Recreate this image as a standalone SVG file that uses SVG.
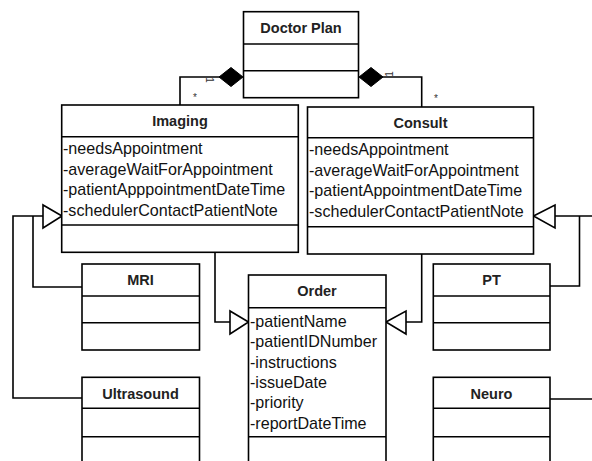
<svg xmlns="http://www.w3.org/2000/svg" width="592" height="461" viewBox="0 0 592 461">
<style>
.box{fill:#fff;stroke:#000;stroke-width:1.6}
.sep{stroke:#000;stroke-width:1.6}
.title{font-family:"Liberation Sans",Arial,sans-serif;font-weight:bold;font-size:14.5px;text-anchor:middle;fill:#222}
.attr{font-family:"Liberation Sans",Arial,sans-serif;font-size:16.1px;fill:#111}
.conn{fill:none;stroke:#000;stroke-width:1.6}
.tri{fill:#fff;stroke:#000;stroke-width:1.6}
.dia{fill:#000;stroke:#000;stroke-width:1}
.mult{font-family:"Liberation Sans",Arial,sans-serif;font-size:10px;fill:#333}
</style>
<rect width="592" height="461" fill="#fff"/>
<g id="connectors">
  <polyline class="conn" points="220,77 180,77 180,105"/>
  <polygon class="dia" points="243,77 231,67.5 219,77 231,86.5"/>
  <polyline class="conn" points="382,77 421.7,77 421.7,107"/>
  <polygon class="dia" points="359,77 371,67.5 383,77 371,86.5"/>
  <text class="mult" transform="translate(206,80) rotate(90)" text-anchor="middle">1</text>
  <text class="mult" x="195" y="101" text-anchor="middle">*</text>
  <text class="mult" transform="translate(393,74) rotate(-90)" text-anchor="middle">1</text>
  <text class="mult" x="436" y="102" text-anchor="middle">*</text>
  <polyline class="conn" points="82,287 33,287 33,216"/>
  <polyline class="conn" points="82,398 13,398 13,216 43,216"/>
  <polygon class="tri" points="62,216 43,205 43,228"/>
  <polyline class="conn" points="215,252 215,322 230,322"/>
  <polygon class="tri" points="248.5,322 230,311 230,334"/>
  <polyline class="conn" points="421.7,254 421.7,322 406,322"/>
  <polygon class="tri" points="386,322 406,311 406,334"/>
  <polyline class="conn" points="555,216 600,216"/>
  <polyline class="conn" points="550,286 579.5,286 579.5,216"/>
  <polyline class="conn" points="550,399 600,399"/>
  <polygon class="tri" points="533.5,216 555,205 555,228"/>
</g>
<g id="doctor-plan">
  <rect class="box" x="243.5" y="11.7" width="115" height="86"/>
  <line class="sep" x1="243.5" y1="44" x2="358.5" y2="44"/>
  <line class="sep" x1="243.5" y1="70.7" x2="358.5" y2="70.7"/>
  <text class="title" x="301" y="33">Doctor Plan</text>
</g>
<g id="imaging">
  <rect class="box" x="61.7" y="105" width="236.6" height="147.3"/>
  <line class="sep" x1="61.7" y1="136.7" x2="298.3" y2="136.7"/>
  <line class="sep" x1="61.7" y1="225" x2="298.3" y2="225"/>
  <text class="title" x="180" y="126">Imaging</text>
  <text class="attr" x="63" y="153.5">-needsAppointment</text>
  <text class="attr" x="63" y="174.5">-averageWaitForAppointment</text>
  <text class="attr" x="63" y="195">-patientApppointmentDateTime</text>
  <text class="attr" x="63" y="215.5">-schedulerContactPatientNote</text>
</g>
<g id="consult">
  <rect class="box" x="307.5" y="107" width="226" height="147"/>
  <line class="sep" x1="307.5" y1="137.7" x2="533.5" y2="137.7"/>
  <line class="sep" x1="307.5" y1="226.7" x2="533.5" y2="226.7"/>
  <text class="title" x="420.5" y="128">Consult</text>
  <text class="attr" x="309" y="154.5">-needsAppointment</text>
  <text class="attr" x="309" y="175.5">-averageWaitForAppointment</text>
  <text class="attr" x="309" y="196">-patientAppointmentDateTime</text>
  <text class="attr" x="309" y="216.5">-schedulerContactPatientNote</text>
</g>
<g id="mri">
  <rect class="box" x="82" y="264" width="117.5" height="86"/>
  <line class="sep" x1="82" y1="296" x2="199.5" y2="296"/>
  <line class="sep" x1="82" y1="322.7" x2="199.5" y2="322.7"/>
  <text class="title" x="140.5" y="285">MRI</text>
</g>
<g id="ultrasound">
  <rect class="box" x="82" y="377.3" width="117.5" height="100"/>
  <line class="sep" x1="82" y1="408.3" x2="199.5" y2="408.3"/>
  <line class="sep" x1="82" y1="436.7" x2="199.5" y2="436.7"/>
  <text class="title" x="140.5" y="398.5">Ultrasound</text>
</g>
<g id="order">
  <rect class="box" x="248.5" y="275" width="137.5" height="200"/>
  <line class="sep" x1="248.5" y1="307.7" x2="386" y2="307.7"/>
  <line class="sep" x1="248.5" y1="436.7" x2="386" y2="436.7"/>
  <text class="title" x="317" y="296">Order</text>
  <text class="attr" x="250" y="327">-patientName</text>
  <text class="attr" x="250" y="347">-patientIDNumber</text>
  <text class="attr" x="250" y="367.5">-instructions</text>
  <text class="attr" x="250" y="388">-issueDate</text>
  <text class="attr" x="250" y="408">-priority</text>
  <text class="attr" x="250" y="428.5">-reportDateTime</text>
</g>
<g id="pt">
  <rect class="box" x="433.3" y="264" width="116.7" height="86"/>
  <line class="sep" x1="433.3" y1="296" x2="550" y2="296"/>
  <line class="sep" x1="433.3" y1="322.7" x2="550" y2="322.7"/>
  <text class="title" x="491.5" y="285">PT</text>
</g>
<g id="neuro">
  <rect class="box" x="433.3" y="377.3" width="116.7" height="100"/>
  <line class="sep" x1="433.3" y1="408.3" x2="550" y2="408.3"/>
  <line class="sep" x1="433.3" y1="436.7" x2="550" y2="436.7"/>
  <text class="title" x="491.5" y="398.5">Neuro</text>
</g>
</svg>
